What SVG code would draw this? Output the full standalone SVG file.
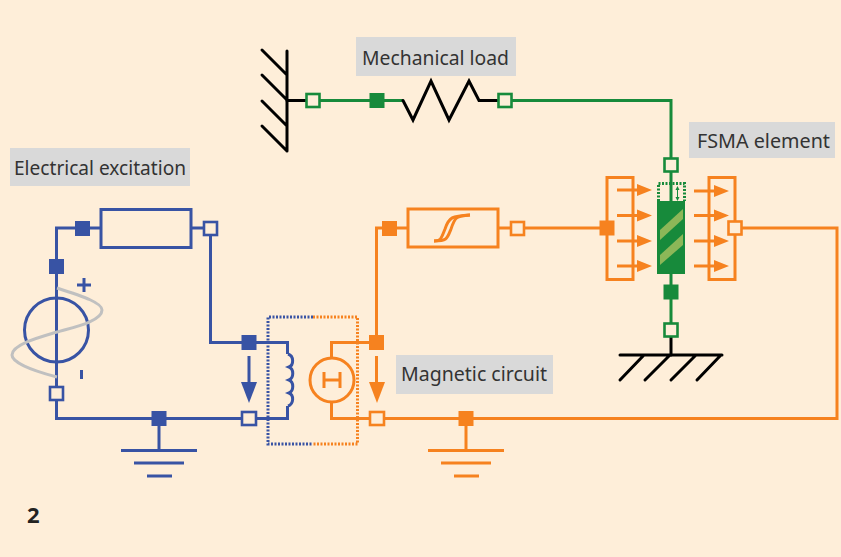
<svg xmlns="http://www.w3.org/2000/svg" width="841" height="557" viewBox="0 0 841 557">
<style>
.l{fill:none;stroke-linejoin:miter}
.b{stroke:#3853a4;stroke-width:3}
.o{stroke:#f6821f;stroke-width:3}
.g{stroke:#178a3b;stroke-width:3}
.k{fill:none;stroke:#000;stroke-width:3;stroke-linecap:round}
.sb{fill:#3853a4}.so{fill:#f6821f}.sg{fill:#178a3b}
.ob{fill:#feeed9;stroke:#3853a4;stroke-width:2.600}
.oo{fill:#feeed9;stroke:#f6821f;stroke-width:2.600}
.og{fill:#feeed9;stroke:#178a3b;stroke-width:2.600}
.lb{fill:#d9d9d9}
text{font-family:"Noto Sans","Open Sans","Liberation Sans",sans-serif;font-size:20px;fill:#333}
</style>
<rect width="841" height="557" fill="#feeed9"/>
<g id="connectors">
<path class="l b" d="M56.500 393V228H101M191 228H210.500V342.500H287.500V354M287.500 406V418.500H56.500V393M159 418.500V450.500"/>
<path class="l o" d="M389 228H376.500V342.500M377 342.500H331.500V358M331.500 402V418.500H837V228H735M389 228H408M498 228H607M466 418.500V450.500"/>
<path class="l g" d="M313 100.500H403M505 100.500H671V330"/>
<path class="k" d="M287 100.500H306M403 100.500L413 120L431 81L449 120L469 81L479 100.500H497M671 337V355"/>
</g>
<g id="mechanical-load-label"><rect class="lb" x="356" y="37" width="160" height="39"/><text x="362" y="65" textLength="147" lengthAdjust="spacingAndGlyphs">Mechanical load</text></g>
<g id="fsma-label"><rect class="lb" x="689" y="122" width="146" height="36"/><text x="697" y="148" textLength="133" lengthAdjust="spacingAndGlyphs">FSMA element</text></g>
<g id="electrical-label"><rect class="lb" x="10" y="148" width="180" height="38"/><text x="14" y="175" textLength="172" lengthAdjust="spacingAndGlyphs">Electrical excitation</text></g>
<g id="magnetic-label"><rect class="lb" x="396" y="355" width="157" height="39"/><text x="401" y="381" textLength="146" lengthAdjust="spacingAndGlyphs">Magnetic circuit</text></g>
<g id="wall"><path class="k" d="M287 51V151M262 50L287 75M262 75L287 100M262 101L287 126M262 126L287 151"/></g>
<g id="spring-nodes">
<rect class="og" x="306.500" y="94" width="13" height="13"/>
<rect class="sg" x="369.500" y="93" width="15" height="15"/>
<rect class="og" x="498.500" y="94" width="13" height="13"/>
</g>
<g id="source">
<circle class="l b" cx="56.500" cy="330" r="32"/>
<path d="M57 288C85 297 102 303 102 310C102 322 70 328 57 332C44 336 12 344 12 355C12 362 30 370 57 377" fill="none" stroke="#c0c0c0" stroke-width="3"/>
<path class="l b" d="M77 285H91M84 278V292M81.500 370V379"/>
<rect class="sb" x="49" y="259" width="15" height="15"/>
<rect class="ob" x="50" y="387" width="13" height="13"/>
</g>
<g id="resistor">
<rect class="l b" x="101" y="209.500" width="90" height="38"/>
<rect class="sb" x="75" y="221" width="15" height="15"/>
<rect class="ob" x="204" y="222" width="13" height="13"/>
</g>
<g id="coil-transformer">
<path d="M288 354C294 356 294 365 289 367C294 369 294 378 289 380C294 382 294 391 289 393C294 395 294 404 288 406" fill="none" stroke="#3853a4" stroke-width="3"/>
<path d="M313 317H268V444H313" fill="none" stroke="#3853a4" stroke-width="3" stroke-dasharray="2 1.500"/>
<path d="M313 317H357.500V444H313" fill="none" stroke="#f6821f" stroke-width="3" stroke-dasharray="2 1.500"/>
<circle class="l o" cx="332" cy="380" r="22"/>
<path class="l o" d="M324 372V388M324 380H340M340 372V388"/>
</g>
<g id="blue-terminals">
<rect class="sb" x="241.500" y="335" width="15" height="15"/>
<rect class="ob" x="242" y="412" width="14" height="13"/>
<path class="l b" d="M249 356V385"/><path class="sb" d="M241 382H257L249 403Z"/>
<rect class="sb" x="151.500" y="411" width="15" height="15"/>
</g>
<g id="ground-blue"><path class="l b" d="M121 450.500H197M134 463H184M147 476H172"/></g>
<g id="orange-terminals">
<rect class="so" x="369" y="335" width="15" height="15"/>
<rect class="oo" x="370" y="412" width="14" height="13"/>
<path class="l o" d="M376.500 356V385"/><path class="so" d="M369 382H385L377 403Z"/>
<rect class="so" x="458.500" y="411" width="15" height="15"/>
</g>
<g id="ground-orange"><path class="l o" d="M428 450.500H504M441 463H491M454 476H479"/></g>
<g id="hysteresis">
<rect class="l o" x="408" y="209" width="90" height="38"/>
<path class="l o" d="M434 241C447 241 447 239 451 229C455 217 456 216 470 215" stroke-width="2"/>
<path class="l o" d="M434 241C441 241 441 239 445 229C449 217 452 216 470 215" stroke-width="2"/>
<rect class="so" x="382" y="221" width="15" height="15"/>
<rect class="oo" x="511" y="222" width="13" height="13"/>
</g>
<g id="magnet-left">
<rect class="l o" x="607" y="177.500" width="26" height="102"/>
<rect class="so" x="599.500" y="220.500" width="15" height="15"/>
<path class="l o" d="M617 190H640M617 215.500H640M617 241H640M617 266H640"/>
<path class="so" d="M637 184L652 190L637 196ZM637 209.500L652 215.500L637 221.500ZM637 235L652 241L637 247ZM637 260L652 266L637 272Z"/>
</g>
<g id="magnet-right">
<rect class="l o" x="709" y="177.500" width="26" height="102"/>
<rect class="oo" x="728.500" y="221.500" width="13" height="13"/>
<path class="l o" d="M694 191H717M694 215.500H717M694 241H717M694 266H717"/>
<path class="so" d="M714 185L729 191L714 197ZM714 209.500L729 215.500L714 221.500ZM714 235L729 241L714 247ZM714 260L729 266L714 272Z"/>
</g>
<g id="fsma-element">
<rect class="sg" x="657" y="201" width="28" height="73"/>
<path d="M660 230L683 209V219L660 240Z" fill="#8cb758"/>
<path d="M660 255L683 234V245L660 265Z" fill="#8cb758"/>
<path d="M658.500 201V183.500H684.500V201" fill="none" stroke="#178a3b" stroke-width="3" stroke-dasharray="2 1.500"/>
<path d="M677.500 188V199" fill="none" stroke="#178a3b" stroke-width="1"/>
<path class="sg" d="M675.500 190H679.500L677.500 186ZM675.500 197H679.500L677.500 201Z"/>
<rect class="og" x="664.500" y="158.500" width="13" height="13"/>
<rect class="sg" x="663.500" y="284.500" width="15" height="15"/>
<rect class="og" x="664.500" y="323.500" width="13" height="13"/>
</g>
<g id="ground-mech"><path class="k" d="M620 355H722M644 355L620 380M670 355L645 380M696 355L671 380M721 355L697 380"/></g>
<text x="27" y="523" style="font-weight:700;font-size:22px;fill:#222">2</text>
</svg>
